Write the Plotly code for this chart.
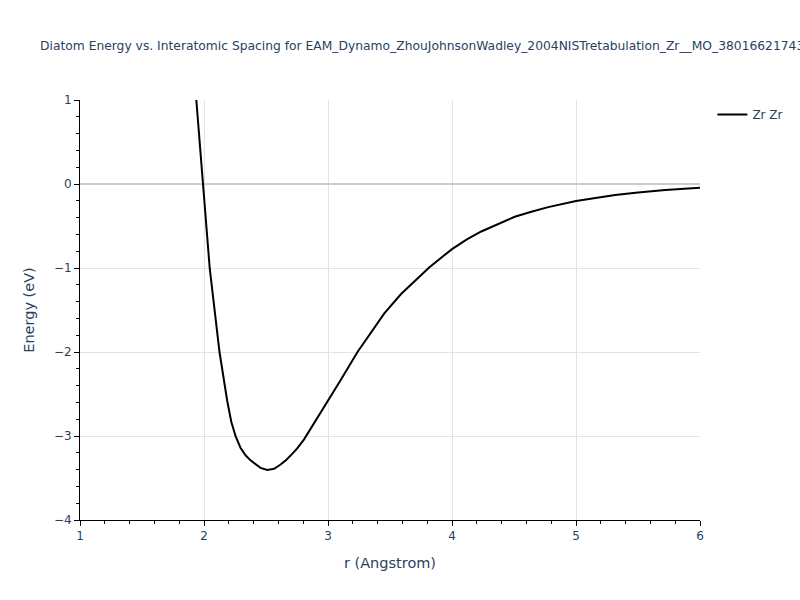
import plotly.graph_objects as go

r_vals = [1.938, 1.989, 2.046, 2.125, 2.187, 2.22, 2.254, 2.294, 2.335, 2.375, 2.416, 2.456, 2.51,
          2.565, 2.618, 2.66, 2.70, 2.75, 2.807, 2.888, 3.0, 3.1, 3.238, 3.32, 3.454, 3.589,
          3.70, 3.818, 4.0, 4.12, 4.236, 4.398, 4.506, 4.64, 4.776, 5.0, 5.15, 5.315, 5.5, 5.72, 6.0]
energy = [1.0, 0.0, -1.0, -2.0, -2.58, -2.83, -3.0, -3.14, -3.23, -3.29, -3.34, -3.38, -3.405,
          -3.39, -3.34, -3.29, -3.23, -3.15, -3.04, -2.85, -2.58, -2.34, -2.0, -1.83, -1.54, -1.31,
          -1.15, -0.99, -0.775, -0.66, -0.565, -0.46, -0.39, -0.33, -0.275, -0.202, -0.165, -0.13, -0.10, -0.072, -0.046]

title_text = "Diatom Energy vs. Interatomic Spacing for EAM_Dynamo_ZhouJohnsonWadley_2004NISTretabulation_Zr__MO_380166217435_000"

FONT = "Verdana, DejaVu Sans, sans-serif"
FCOL = "#2a3f5f"

fig = go.Figure()
fig.add_trace(go.Scatter(x=r_vals, y=energy, mode="lines", name="Zr Zr",
                         line=dict(color="black", width=2)))

axis_common = dict(
    showline=True, linecolor="black", linewidth=1,
    ticks="outside", tickcolor="black", ticklen=5,
    showgrid=True, gridcolor="#e3e3e3",
    minor=dict(ticks="outside", ticklen=3, tickcolor="black", dtick=0.2, showgrid=False),
    tickfont=dict(size=12, color=FCOL, family=FONT),
)

fig.update_layout(
    width=800, height=600,
    template="plotly_white",
    font=dict(family=FONT, color=FCOL),
    title=dict(text=title_text, x=0.05, xanchor="left", font=dict(size=12.3, color=FCOL, family=FONT)),
    plot_bgcolor="white", paper_bgcolor="white",
    margin=dict(l=80, r=80, t=100, b=80),
    showlegend=True,
    legend=dict(font=dict(size=12, color=FCOL, family=FONT)),
)
fig.update_xaxes(range=[1, 6], dtick=1, title=dict(text="r (Angstrom)", font=dict(size=14.5, color=FCOL, family=FONT)),
                 zeroline=False, **axis_common)
fig.update_yaxes(range=[-4, 1], dtick=1, title=dict(text="Energy (eV)", font=dict(size=14.5, color=FCOL, family=FONT)),
                 zeroline=True, zerolinecolor="#cccccc", zerolinewidth=2, **axis_common)

fig.write_html("out.html", config={"displayModeBar": False},
               post_script="document.body.style.margin='0';document.body.style.overflow='hidden';")
